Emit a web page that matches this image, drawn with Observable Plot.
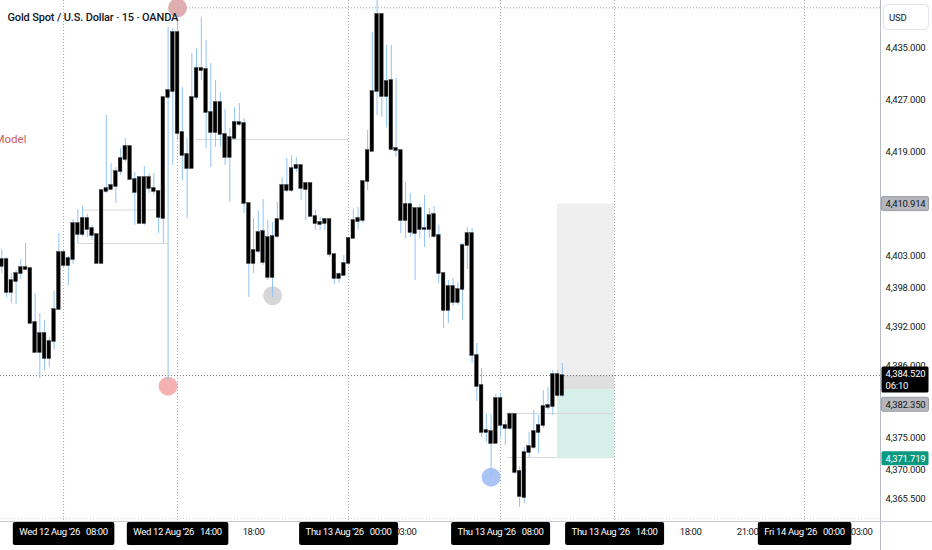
<!DOCTYPE html>
<html><head><meta charset="utf-8">
<script src="https://cdn.jsdelivr.net/npm/d3@7"></script>
<script src="https://cdn.jsdelivr.net/npm/@observablehq/plot@0.6"></script>
<style>
body{margin:0;background:#fff;}
</style></head><body><div id="chart"></div>
<script>
// ---- OHLC of 15-minute Gold Spot bars (bar 13 = Wed 12 Aug '26 08:00) ----
const open = [4401.31,4402.38,4397.31,4399.0,4400.23,4401.15,4401.0,4392.69,4388.08,4391.0,
4387.15,4389.77,4394.69,4403.46,4401.46,4402.38,4407.92,4406.23,4408.69,4407.15,
4406.23,4401.77,4412.85,4413.15,4413.62,4415.92,4417.77,4419.77,4414.69,4415.0,
4407.92,4415.0,4413.31,4412.85,4408.69,4427.31,4428.23,4437.31,4421.92,4418.54,
4416.38,4427.31,4431.77,4431.62,4425.0,4421.92,4426.54,4421.62,4418.08,4421.0,
4423.46,4423.31,4411.0,4401.77,4403.62,4406.69,4405.77,4399.62,4405.92,4408.54,
4413.77,4413.0,4416.38,4416.85,4413.15,4414.08,4409.0,4408.08,4407.92,4408.54,
4403.15,4399.46,4399.92,4401.77,4405.62,4408.23,4408.38,4414.38,4419.0,4428.23,
4440.08,4427.46,4429.92,4419.46,4419.15,4408.38,4410.85,4406.38,4410.23,4407.0,
4407.0,4409.31,4406.08,4400.23,4394.54,4398.23,4395.77,4397.77,4404.54,4406.38,
4387.62,4383.0,4375.77,4375.92,4374.08,4381.0,4376.85,4376.38,4378.54,4369.77,
4365.77,4372.69,4373.46,4375.77,4376.85,4379.62,4379.77,4384.69,4381.46];
const high = [4403.92,4402.69,4400.23,4400.69,4402.38,4404.85,4401.0,4397.15,4394.08,4393.0,
4390.38,4397.46,4406.38,4403.77,4402.85,4408.54,4410.08,4410.54,4409.31,4407.62,
4406.23,4413.0,4424.54,4417.15,4416.54,4419.46,4421.0,4419.92,4415.77,4415.0,
4416.69,4415.62,4415.62,4412.85,4427.31,4438.08,4437.92,4441.77,4428.85,4421.0,
4434.08,4434.85,4439.62,4436.08,4432.54,4429.92,4428.08,4425.46,4422.54,4425.77,
4426.38,4424.08,4411.0,4408.69,4409.77,4411.62,4408.38,4408.08,4411.15,4415.0,
4417.92,4418.38,4418.08,4416.85,4414.23,4414.08,4409.92,4408.85,4408.69,4408.54,
4403.15,4400.38,4403.0,4405.62,4410.08,4410.38,4414.38,4422.23,4437.31,4443.0,
4440.23,4435.31,4435.31,4430.23,4419.15,4414.23,4412.54,4410.23,4410.85,4412.23,
4410.23,4410.54,4407.62,4400.23,4399.15,4399.46,4398.85,4404.85,4407.31,4407.15,
4389.46,4385.62,4378.69,4378.54,4381.62,4381.77,4377.62,4378.85,4378.54,4370.54,
4373.46,4375.77,4379.15,4378.38,4382.23,4382.69,4385.31,4385.31,4386.38];
const low = [4400.23,4396.54,4395.62,4395.46,4399.31,4400.69,4392.54,4387.92,4384.08,4385.31,
4385.77,4388.38,4394.69,4401.0,4398.38,4401.62,4404.85,4405.92,4405.77,4405.31,
4401.77,4401.77,4412.54,4413.0,4411.0,4415.31,4417.31,4414.54,4407.62,4407.92,
4407.62,4412.54,4412.23,4406.38,4404.85,4383.77,4416.85,4420.69,4414.54,4408.69,
4416.38,4426.85,4429.92,4419.46,4416.54,4419.62,4419.62,4416.85,4411.15,4420.69,
4422.85,4409.46,4396.54,4400.23,4403.31,4401.46,4399.15,4396.54,4405.62,4408.23,
4412.69,4412.69,4415.77,4411.46,4408.38,4409.0,4406.85,4406.85,4406.85,4402.69,
4398.54,4398.69,4399.92,4401.77,4405.62,4406.85,4407.92,4413.0,4419.0,4424.54,
4424.23,4422.69,4419.15,4418.08,4406.38,4405.62,4405.77,4399.15,4405.62,4404.23,
4405.62,4405.62,4398.69,4391.77,4392.54,4395.15,4395.31,4393.0,4400.85,4386.38,
4380.54,4375.0,4374.23,4368.85,4374.08,4375.0,4373.77,4376.08,4369.31,4364.23,
4364.85,4371.92,4373.15,4372.54,4376.38,4379.15,4378.38,4381.15,4381.15];
const close = [4402.38,4397.31,4399.15,4400.23,4401.15,4400.85,4392.54,4388.08,4391.0,4387.15,
4389.77,4394.69,4403.46,4401.46,4402.54,4407.92,4406.23,4408.69,4407.0,4406.08,
4401.77,4413.0,4413.31,4413.77,4415.92,4417.92,4419.77,4414.69,4412.69,4407.92,
4415.0,4413.31,4412.85,4408.85,4427.31,4428.38,4437.31,4421.77,4418.38,4416.38,
4427.31,4431.77,4431.46,4425.0,4421.92,4426.54,4421.62,4418.08,4421.15,4423.46,
4423.15,4411.0,4401.77,4403.77,4406.54,4401.92,4399.62,4405.92,4408.54,4413.77,
4413.0,4416.38,4416.85,4413.31,4414.08,4409.0,4407.92,4407.77,4408.54,4403.15,
4399.46,4400.08,4401.77,4405.62,4408.38,4408.69,4414.38,4419.15,4428.23,4440.08,
4427.46,4429.77,4419.31,4419.15,4408.38,4410.85,4406.54,4410.23,4407.0,4407.15,
4409.15,4405.92,4400.23,4394.54,4398.23,4395.77,4397.77,4404.54,4406.38,4387.62,
4382.85,4375.77,4376.08,4374.08,4381.0,4376.85,4376.38,4378.54,4369.62,4365.92,
4372.69,4373.62,4375.92,4376.85,4379.77,4379.92,4384.69,4381.46,4384.52];

// ---- axes ----
const priceTicks = [4435, 4427, 4419, 4403, 4398, 4392, 4386, 4375, 4370, 4365.5];
const timeTickBars   = [53, 85, 145, 157, 181];
const timeTickLabels = ["18:00", "03:00", "18:00", "21:00", "03:00"];
const dateTickBars   = [13, 37, 73, 105, 129, 169];
const dateTickLabels = ["Wed 12 Aug '26\u00a0\u00a0\u00a008:00", "Wed 12 Aug '26\u00a0\u00a0\u00a014:00",
  "Thu 13 Aug '26\u00a0\u00a0\u00a000:00", "Thu 13 Aug '26\u00a0\u00a0\u00a008:00",
  "Thu 13 Aug '26\u00a0\u00a0\u00a014:00", "Fri 14 Aug '26\u00a0\u00a0\u00a000:00"];

// ---- drawings ----
const positionStart = 117, positionEnd = 129;
const entryPrice = 4382.35, stopPrice = 4410.914, targetPrice = 4371.719;
const levelPrices = [4420.85, 4410.0, 4404.85, 4378.69, 4371.92];
const levelFrom   = [41, 17, 16, 106.5, 106.5];
const levelTo     = [73, 34.5, 35, 129, 117];
const markerBars   = [35, 37, 57, 103];
const markerPrices = [4382.9, 4441.1, 4396.8, 4368.9];
const markerKinds  = ["low", "high", "grey", "blue"];
const highLinePrice = 4441.1, highLineFrom = 37;

const candles = open.map((o, i) => ({i, o, h: high[i], l: low[i], c: close[i]}));
const last = close[close.length - 1];
const xDomain = [-0.28, 184.98];
const markerFill = {low: "#f3a3a3", high: "#dca0a2", grey: "#cfcfd2", blue: "#9cb9f3"};
const fmt = d3.format(",.3f");

const chart = Plot.plot({
  width: 932, height: 550,
  marginLeft: 0, marginRight: 52, marginTop: 0, marginBottom: 30,
  x: {domain: xDomain, axis: null},
  y: {domain: [4362.231, 4442.231], axis: null},
  style: {fontFamily: "Roboto, 'Noto Sans', sans-serif", background: "#fff", overflow: "visible"},
  marks: [
    // position tool
    Plot.rect([0], {x1: positionStart, x2: positionEnd, y1: entryPrice, y2: stopPrice, fill: "#efefef"}),
    Plot.rect([0], {x1: positionStart, x2: positionEnd, y1: entryPrice, y2: last, fill: "#dfdfdf"}),
    Plot.rect([0], {x1: positionStart, x2: positionEnd, y1: targetPrice, y2: entryPrice, fill: "#d6efe8"}),
    // level drawings
    Plot.ruleY(levelPrices, {y: d => d, x1: (d, i) => levelFrom[i], x2: (d, i) => levelTo[i], stroke: "#d8d8dc", strokeWidth: 1}),
    // grid
    Plot.ruleX(dateTickBars, {stroke: "#a3a6af", strokeDasharray: "1,2", strokeWidth: 1}),
    Plot.ruleY([last], {stroke: "#6a6d78", strokeDasharray: "1,2", strokeWidth: 1}),
    Plot.ruleY([highLinePrice], {x1: highLineFrom, x2: xDomain[1], stroke: "#9a9da6", strokeDasharray: "1,2"}),
    Plot.ruleY([4362.55], {stroke: "#c9d6ee", strokeDasharray: "1,2"}),
    // markers
    Plot.dot(markerBars, {x: d => d, y: (d, i) => markerPrices[i], r: 9.5, fill: (d, i) => markerFill[markerKinds[i]], fillOpacity: 0.85, stroke: "none"}),
    // candles
    Plot.ruleX(candles, {x: "i", y1: "l", y2: "h", stroke: "#8fc3f5", strokeWidth: 1}),
    Plot.rect(candles, {x1: d => d.i - 0.39, x2: d => d.i + 0.39, y1: d => Math.min(d.o, d.c), y2: d => Math.max(d.o, d.c),
      fill: "#000", stroke: "#3a3a3a", strokeWidth: 0.4, insetTop: -0.5, insetBottom: -0.5}),
    // titles
    Plot.text(["Gold Spot / U.S. Dollar · 15 · OANDA"], {frameAnchor: "top-left", dx: 7, dy: 16.5, lineAnchor: "middle", textAnchor: "start",
      fontSize: 11, fontWeight: 500, fill: "#131722", ariaDescription: "title"}),
    Plot.text(["Model"], {frameAnchor: "top-left", dx: -6, dy: 139, lineAnchor: "middle", textAnchor: "start", fontSize: 11.5, fill: "#cc5b5b"}),
    // right axis
    Plot.axisY(priceTicks, {anchor: "right", tickSize: 0, tickPadding: 5, tickFormat: fmt, label: null, fontSize: 9.5, color: "#131722", ariaDescription: "narrow"}),
    // bottom axis
    Plot.text(timeTickBars, {x: d => d, frameAnchor: "bottom", dy: 14, text: (d, i) => timeTickLabels[i], fontSize: 9.5, fill: "#131722", ariaDescription: "narrowx"}),
    Plot.text(dateTickBars, {x: d => d, frameAnchor: "bottom", dy: 14, text: (d, i) => dateTickLabels[i], fontSize: 9.5, fill: "#fff", ariaDescription: "box-black"}),
    // price labels
    Plot.text([stopPrice], {y: d => d, frameAnchor: "right", dx: 5, textAnchor: "start", text: d => fmt(d), fontSize: 9.5, fill: "#131722", ariaDescription: "box-grey"}),
    Plot.text([entryPrice], {y: d => d, frameAnchor: "right", dx: 5, dy: 15, textAnchor: "start", text: d => fmt(d), fontSize: 9.5, fill: "#131722", ariaDescription: "box-grey"}),
    Plot.text([targetPrice], {y: d => d, frameAnchor: "right", dx: 5, textAnchor: "start", text: d => fmt(d), fontSize: 9.5, fill: "#fff", ariaDescription: "box-green"}),
    Plot.text([last], {y: d => d, frameAnchor: "right", dx: 5, dy: -7, lineAnchor: "top", lineHeight: 1.25, textAnchor: "start", text: d => fmt(d) + "\n06:10", fontSize: 9.5, fill: "#fff", ariaDescription: "box-dark"}),
    Plot.text(["USD"], {frameAnchor: "top-right", dx: 26, dy: 17, lineAnchor: "middle", fontSize: 9.5, fill: "#131722", ariaDescription: "box-usd"})
  ]
});
document.getElementById("chart").appendChild(chart);

const svg = d3.select(chart);
svg.selectAll('g[aria-description="title"] text').style("letter-spacing", "-0.15px");
svg.selectAll('g[aria-description="narrow"] text, g[aria-description^="box-"] text').style("letter-spacing", "-0.2px");
svg.selectAll('g[aria-description="narrowx"] text, g[aria-description="box-black"] text').style("letter-spacing", "-0.35px");
// frame lines
svg.append("line").attr("x1", 880.5).attr("x2", 880.5).attr("y1", 0).attr("y2", 550).attr("stroke", "#b8bbc4");
svg.append("line").attr("x1", 0).attr("x2", 932).attr("y1", 521.5).attr("y2", 521.5).attr("stroke", "#c8cbd3");

function boxify(label, fill, stroke, fixed) {
  svg.selectAll(`g[aria-description="${label}"] text`).each(function () {
    const b = this.getBBox();
    const m = this.getCTM();
    const r = document.createElementNS("http://www.w3.org/2000/svg", "rect");
    const t = this.getAttribute("transform");
    if (t) r.setAttribute("transform", t);
    if (fixed === "right") {
      r.setAttribute("x", 881.5 - m.e); r.setAttribute("width", 47);
      r.setAttribute("y", b.y - 1.5); r.setAttribute("height", b.height + 3);
      r.setAttribute("rx", 1.5);
    } else if (fixed === "usd") {
      r.setAttribute("x", 883.5 - m.e); r.setAttribute("width", 45);
      r.setAttribute("y", 4.5 - m.f); r.setAttribute("height", 25);
      r.setAttribute("rx", 4);
    } else {
      r.setAttribute("x", b.x - 6.5); r.setAttribute("width", b.width + 13);
      r.setAttribute("y", 522 - m.f); r.setAttribute("height", 23);
      r.setAttribute("rx", 2);
    }
    r.setAttribute("fill", fill);
    if (stroke) r.setAttribute("stroke", stroke);
    this.parentNode.insertBefore(r, this);
  });
}
boxify("box-black", "#000", null);
boxify("box-grey", "#b5b7bd", "#9a9ca3", "right");
boxify("box-green", "#089981", null, "right");
boxify("box-dark", "#000", null, "right");
boxify("box-usd", "#fff", "#e0e3eb", "usd");
</script></body></html>
